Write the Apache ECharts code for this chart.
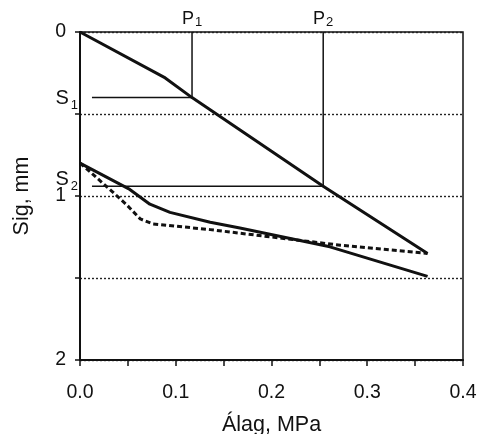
<!DOCTYPE html>
<html>
<head>
<meta charset="utf-8">
<style>
  html, body { margin: 0; padding: 0; background: #fff; }
  #chart { width: 480px; height: 434px; }
</style>
<script src="https://cdn.jsdelivr.net/npm/echarts@6/dist/echarts.min.js"></script>
</head>
<body>
<div id="chart"></div>
<script>
// Load (MPa) vs settlement (mm) curves
const upperX = [0, 0.089, 0.117, 0.254, 0.363];
const upperY = [0, 0.28, 0.40, 0.94, 1.35];
const lowerX = [0, 0.052, 0.073, 0.094, 0.136, 0.167, 0.261, 0.363];
const lowerY = [0.80, 0.96, 1.05, 1.10, 1.16, 1.195, 1.31, 1.49];
const dashX = [0, 0.010, 0.034, 0.049, 0.063, 0.076, 0.136, 0.200, 0.272, 0.363];
const dashY = [0.80, 0.85, 0.975, 1.055, 1.14, 1.17, 1.205, 1.25, 1.30, 1.35];

// Reference loads P1, P2 and the settlements S1, S2
const refIndex = ['1', '2'];
const refLoad = [0.117, 0.254];
const refSettle = [0.40, 0.94];
const sLineStartX = 0.0125;

const FONT = '"Liberation Sans", Arial, Helvetica, sans-serif';
const INK = '#111';
const TEXT = '#111';

const zip = (xs, ys) => xs.map((x, i) => [x, ys[i]]);

const chart = echarts.init(document.getElementById('chart'), null, { renderer: 'canvas' });

const curveSeries = (data, type) => ({
  type: 'line',
  data: data,
  symbol: 'none',
  silent: true,
  z: 5,
  lineStyle: { color: INK, width: 3, type: type, cap: 'butt', join: 'round' }
});

const guide = (data) => ({
  type: 'line',
  data: data,
  symbol: 'none',
  silent: true,
  z: 4,
  lineStyle: { color: INK, width: 1.5 }
});

const series = [
  curveSeries(zip(upperX, upperY), 'solid'),
  curveSeries(zip(lowerX, lowerY), 'solid'),
  curveSeries(zip(dashX, dashY), [5, 3])
];

refIndex.forEach((k, i) => {
  series.push(guide([[refLoad[i], 0], [refLoad[i], refSettle[i]]]));
  series.push(guide([[sLineStartX, refSettle[i]], [refLoad[i], refSettle[i]]]));
});

// Text labels P1, P2 above the frame and S1, S2 left of the settlement lines
const labelData = [];
refIndex.forEach((k, i) => {
  labelData.push({
    value: [refLoad[i], 0],
    label: {
      show: true, position: 'top', distance: 3, color: TEXT, opacity: 1,
      formatter: '{m|P}{s|' + k + '}',
      rich: {
        m: { fontSize: 18, fontFamily: FONT, color: TEXT },
        s: { fontSize: 13, fontFamily: FONT, color: TEXT, padding: [6, 0, 0, 1] }
      }
    }
  });
  labelData.push({
    value: [sLineStartX, refSettle[i]],
    label: {
      show: true, position: 'left', distance: 14, color: TEXT, opacity: 1,
      offset: [0, i === 0 ? 1 : -7],
      formatter: '{m|S}{s|' + k + '}',
      rich: {
        m: { fontSize: 20, fontFamily: FONT, color: TEXT },
        s: { fontSize: 13, fontFamily: FONT, color: TEXT, padding: [14, 0, 0, 2] }
      }
    }
  });
});

series.push({
  type: 'scatter',
  data: labelData,
  symbolSize: 0,
  itemStyle: { color: TEXT, opacity: 1 },
  silent: true,
  z: 6
});

chart.setOption({
  animation: false,
  backgroundColor: '#fff',
  grid: {
    left: 80, right: 17, top: 32, bottom: 74,
    outerBoundsMode: 'none',
    containLabel: false,
    show: true, borderColor: INK, borderWidth: 1.5, backgroundColor: 'transparent'
  },
  xAxis: {
    type: 'value',
    min: 0, max: 0.4, interval: 0.05,
    name: 'Álag, MPa',
    nameLocation: 'middle',
    nameGap: 54,
    nameTextStyle: { fontSize: 21.5, fontFamily: FONT, color: TEXT },
    axisLine: { show: true, onZero: false, lineStyle: { color: INK, width: 2 } },
    axisTick: { show: true, inside: false, length: 6, lineStyle: { color: INK, width: 1.5 } },
    axisLabel: {
      fontSize: 19.5, fontFamily: FONT, color: TEXT, margin: 23,
      formatter: v => (Math.round(v * 100) % 10 === 0 ? v.toFixed(1) : '')
    },
    splitLine: { show: false }
  },
  yAxis: {
    type: 'value',
    inverse: true,
    min: 0, max: 2, interval: 0.5,
    name: 'Sig, mm',
    nameLocation: 'middle',
    nameRotate: 90,
    nameGap: 47,
    nameTextStyle: { fontSize: 21.5, fontFamily: FONT, color: TEXT },
    axisLine: { show: true, onZero: false, lineStyle: { color: INK, width: 2 } },
    axisTick: { show: true, inside: false, length: 5, lineStyle: { color: INK, width: 1.5 } },
    axisLabel: {
      fontSize: 19.5, fontFamily: FONT, color: TEXT, margin: 14,
      formatter: v => (Number.isInteger(v) ? String(v) : '')
    },
    splitLine: { show: true, lineStyle: { color: '#222', width: 1.4, type: [2, 2] } }
  },
  series: series
});
</script>
</body>
</html>
